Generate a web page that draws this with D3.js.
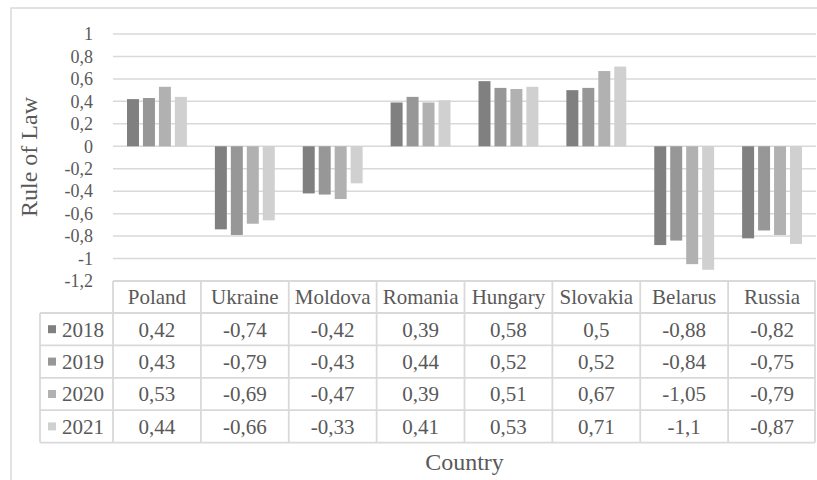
<!DOCTYPE html>
<html>
<head>
<meta charset="utf-8">
<script src="https://cdn.jsdelivr.net/npm/d3@7"></script>
<style>
  html, body { margin: 0; padding: 0; background: #fff; }
  svg { display: block; }
</style>
</head>
<body>
<svg id="chart" width="817" height="480"></svg>
<script>
// Rule of Law scores by country and year
const countries = ["Poland", "Ukraine", "Moldova", "Romania", "Hungary", "Slovakia", "Belarus", "Russia"];
const years = ["2018", "2019", "2020", "2021"];
const v2018 = [0.42, -0.74, -0.42, 0.39, 0.58, 0.5, -0.88, -0.82];
const v2019 = [0.43, -0.79, -0.43, 0.44, 0.52, 0.52, -0.84, -0.75];
const v2020 = [0.53, -0.69, -0.47, 0.39, 0.51, 0.67, -1.05, -0.79];
const v2021 = [0.44, -0.66, -0.33, 0.41, 0.53, 0.71, -1.1, -0.87];
const yTicks = [1, 0.8, 0.6, 0.4, 0.2, 0, -0.2, -0.4, -0.6, -0.8, -1, -1.2];

const seriesValues = [v2018, v2019, v2020, v2021];
const colors = ["#808080", "#979797", "#b1b1b1", "#d0d0d0"];
const grid = "#d9d9d9";
const FONT = "'Liberation Serif', 'Times New Roman', Tinos, 'Noto Serif', FreeSerif, 'DejaVu Serif', serif";

// decimal comma, plain hyphen for negatives
const fmt = v => String(Math.round(v * 100) / 100).replace(".", ",");

const svg = d3.select("#chart")
  .attr("font-family", FONT)
  .style("font-family", FONT);

// chart area frame (right and bottom edges run off the canvas)
svg.append("rect")
  .attr("x", 11).attr("y", 8).attr("width", 820).attr("height", 490)
  .attr("fill", "#fff").attr("stroke", grid).attr("stroke-width", 1.5);

const plotLeft = 113, plotRight = 816;
const x = d3.scaleBand().domain(countries).range([plotLeft, plotRight]);
const y = d3.scaleLinear().domain([-1.2, 1]).range([281, 34]);

// inner band for the four bars of a group
const x1 = d3.scaleBand().domain(years)
  .range([14, x.bandwidth() - 14]).paddingInner(0.25);

// gridlines
svg.append("g").selectAll("line").data(yTicks).join("line")
  .attr("x1", plotLeft).attr("x2", plotRight)
  .attr("y1", d => y(d)).attr("y2", d => y(d))
  .attr("stroke", grid).attr("stroke-width", 1.5);

// y axis labels
const yAxis = d3.axisLeft(y).tickValues(yTicks).tickFormat(fmt).tickSize(0).tickPadding(0);
const ya = svg.append("g").attr("transform", "translate(93,0)").call(yAxis)
  .attr("font-family", FONT).attr("font-size", 18);
ya.select(".domain").remove();
ya.selectAll("text").attr("fill", "#595959");

// bars
const groups = svg.append("g").selectAll("g").data(countries).join("g")
  .attr("transform", d => `translate(${x(d)},0)`);
groups.selectAll("rect")
  .data((c, i) => years.map((yr, k) => ({ yr, k, v: seriesValues[k][i] })))
  .join("rect")
  .attr("x", d => x1(d.yr))
  .attr("width", x1.bandwidth())
  .attr("y", d => Math.min(y(d.v), y(0)))
  .attr("height", d => Math.abs(y(d.v) - y(0)))
  .attr("fill", d => colors[d.k]);

// data table below the plot
const tableTop = 281, headH = 32, rowH = 32.4, legLeft = 40;
const rowY = i => tableTop + headH + i * rowH;
const tableBottom = rowY(years.length);
const tg = svg.append("g").attr("fill", "#595959");
const line = (x1_, y1_, x2_, y2_) => tg.append("line")
  .attr("x1", x1_).attr("y1", y1_).attr("x2", x2_).attr("y2", y2_)
  .attr("stroke", grid).attr("stroke-width", 1.8);

// horizontal rules
line(plotLeft, tableTop, plotRight - 1, tableTop);
for (let i = 0; i <= years.length; i++) line(legLeft, rowY(i), plotRight - 1, rowY(i));
// vertical rules
line(legLeft, rowY(0), legLeft, tableBottom);
countries.forEach(c => line(x(c), tableTop, x(c), tableBottom));
line(plotRight - 1, tableTop, plotRight - 1, tableBottom);

// header: country names
tg.selectAll("text.hd").data(countries).join("text").attr("class", "hd")
  .attr("x", d => x(d) + x.bandwidth() / 2)
  .attr("y", tableTop + headH / 2)
  .attr("dy", "0.35em").attr("text-anchor", "middle")
  .attr("font-size", 21).text(d => d);

// legend keys and year labels
years.forEach((yr, k) => {
  const cy = rowY(k) + rowH / 2;
  tg.append("rect").attr("x", 48).attr("y", cy - 4).attr("width", 8).attr("height", 8)
    .attr("fill", colors[k]);
  tg.append("text").attr("x", 62).attr("y", cy).attr("dy", "0.35em")
    .attr("font-size", 21).text(yr);
  tg.selectAll(null).data(seriesValues[k]).join("text")
    .attr("x", (d, i) => x(countries[i]) + x.bandwidth() / 2)
    .attr("y", cy).attr("dy", "0.35em").attr("text-anchor", "middle")
    .attr("font-size", 21).text(d => fmt(d));
});

// axis titles
svg.append("text")
  .attr("transform", "translate(29,157) rotate(-90)")
  .attr("text-anchor", "middle").attr("dy", "0.35em")
  .attr("fill", "#595959")
  .attr("font-size", 24).text("Rule of Law");
svg.append("text")
  .attr("x", (plotLeft + plotRight) / 2).attr("y", 462)
  .attr("text-anchor", "middle").attr("dy", "0.35em")
  .attr("fill", "#595959")
  .attr("font-size", 24).text("Country");
</script>
</body>
</html>
